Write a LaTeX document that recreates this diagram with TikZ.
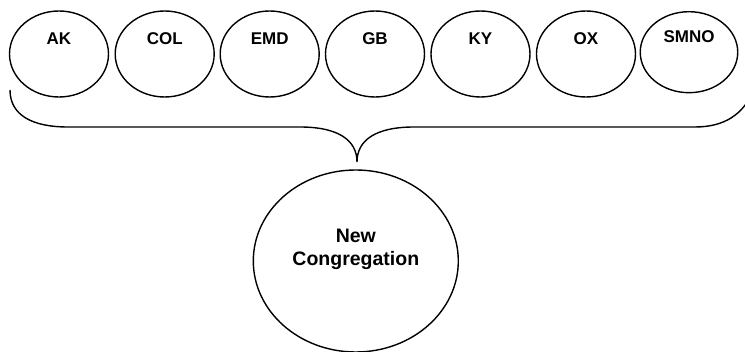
\documentclass[tikz,border=0pt]{standalone}
\usepackage{fontspec}
\setmainfont{Liberation Sans}
\usetikzlibrary{shapes.geometric}
\begin{document}
\begin{tikzpicture}[x=1pt,y=-1pt,line width=1.4pt,
  group/.style={ellipse,draw,inner sep=0pt,minimum width=99pt,minimum height=86pt,
    label={[font=\bfseries\fontsize{17}{20}\selectfont,yshift=15.2pt]center:#1}},
  merged/.style={ellipse,draw,inner sep=0pt,minimum width=205pt,minimum height=182pt,
    label={[font=\bfseries\fontsize{19.5}{23}\selectfont,align=center,yshift=12pt]center:#1}}]
  \useasboundingbox (0,0) rectangle (745,352);

  % the seven groups
  \node[group=AK]  (ak)  at (59,54) {};
  \node[group=COL] (col) at (164.7,54) {};
  \node[group=EMD] (emd) at (269.7,54) {};
  \node[group=GB]  (gb)  at (375,54) {};
  \node[group=KY]  (ky)  at (480.5,54) {};
  \node[group=OX]  (ox)  at (586,54) {};
  \node[group=SMNO,minimum width=97.5pt,minimum height=81pt] (smno) at (689,52.2) {};

  % the resulting body
  \node[merged={New\\Congregation}] (new) at (355.8,261) {};

  % curly brace gathering the groups
  \coordinate (tip) at (357,162);
  \draw (10,90) .. controls (10,115) and (32,127) .. (68,127)
        -- (300,127) .. controls (338,127) and (357,140) .. (tip)
        .. controls (357,140) and (376,127) .. (414,127)
        -- (695,127) .. controls (725,127) and (742,114) .. (752,94);
\end{tikzpicture}
\end{document}
